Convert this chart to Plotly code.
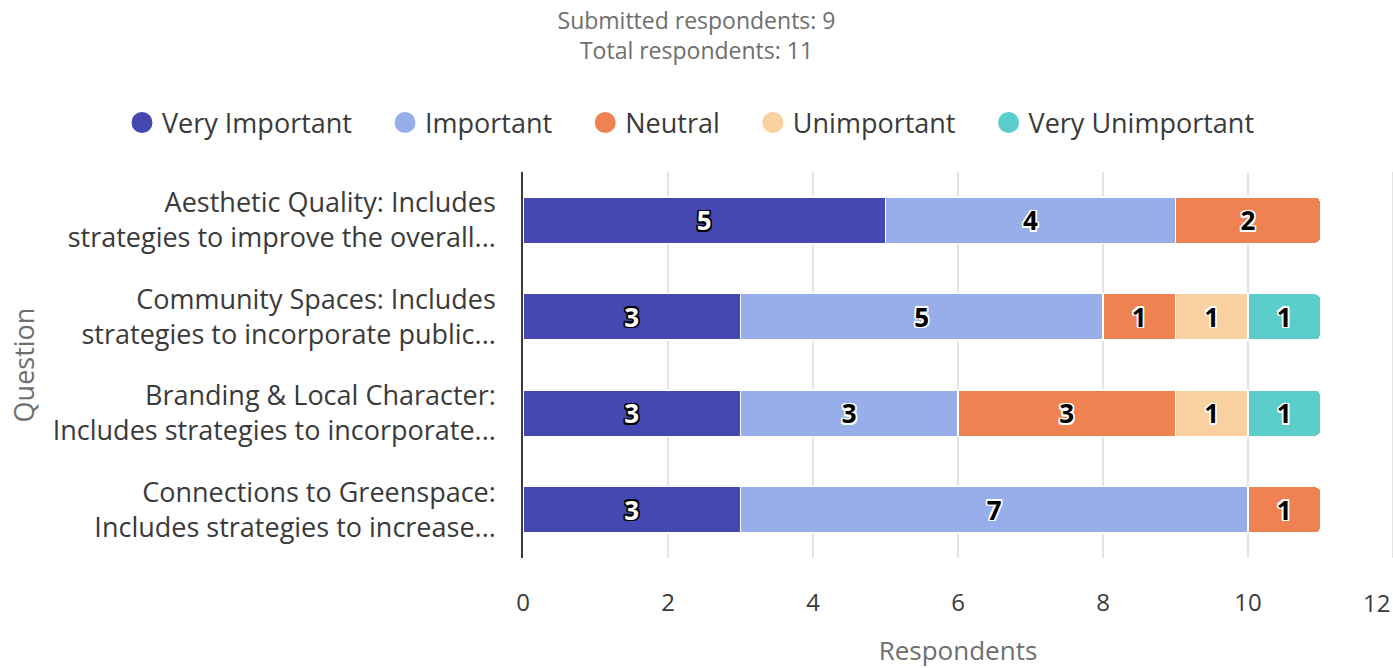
import plotly.graph_objects as go

categories = [
    "Aesthetic Quality: Includes<br>strategies to improve the overall...",
    "Community Spaces: Includes<br>strategies to incorporate public...",
    "Branding & Local Character:<br>Includes strategies to incorporate...",
    "Connections to Greenspace:<br>Includes strategies to increase...",
]
series_names = ["Very Important", "Important", "Neutral", "Unimportant", "Very Unimportant"]
very_important = [5, 3, 3, 3]
important = [4, 5, 3, 7]
neutral = [2, 1, 3, 1]
unimportant = [None, 1, 1, None]
very_unimportant = [None, 1, 1, None]
colors = ["#4448B0", "#98AEEB", "#EF8253", "#F9D09F", "#5BCDCB"]
x_ticks = [0, 2, 4, 6, 8, 10, 12]

FONT = "Open Sans"
dark_outline = ", ".join(f"{dx}px {dy}px 0 #000" for dx in (-1.5, 0, 1.5) for dy in (-1.5, 0, 1.5) if dx or dy)
light_outline = ", ".join(f"{dx}px {dy}px 0 #fff" for dx in (-1.5, 0, 1.5) for dy in (-1.5, 0, 1.5) if dx or dy)
PAD = "\u00a0" * 4

fig = go.Figure()
all_vals = [very_important, important, neutral, unimportant, very_unimportant]
for i, (name, vals, col) in enumerate(zip(series_names, all_vals, colors)):
    white = i == 0
    fig.add_trace(go.Bar(
        y=categories, x=vals, orientation="h", name=name,
        marker=dict(color=col, line=dict(color="#ffffff", width=1.5)),
        text=[str(v) if v else "" for v in vals],
        textposition="inside", insidetextanchor="middle", textangle=0,
        constraintext="none",
        textfont=dict(family=FONT, size=26, weight="bold",
                      color="#ffffff" if white else "#000000",
                      shadow=dark_outline if white else light_outline),
        showlegend=False, hoverinfo="skip",
    ))
    fig.add_trace(go.Scatter(
        x=[None], y=[None], mode="markers",
        name=name + (PAD if i < len(series_names) - 1 else ""),
        marker=dict(symbol="circle", size=16, color=col, line=dict(color=col, width=5)),
        showlegend=True,
    ))

fig.update_layout(
    width=1393, height=668,
    barmode="stack", bargap=0.52, barcornerradius=5,
    plot_bgcolor="#ffffff", paper_bgcolor="#ffffff",
    margin=dict(l=523, r=0, t=172, b=110, autoexpand=False),
    font=dict(family=FONT, color="#3a3a3a"),
    title=dict(text="Submitted respondents: 9<br>Total respondents: 11",
               x=0.5, xref="container", xanchor="center",
               y=1 - 29 / 668, yref="container", yanchor="top",
               font=dict(family=FONT, size=23, color="#6e6e6e")),
    legend=dict(orientation="h", xref="paper", x=(122 - 523) / 870, xanchor="left",
                y=1.127, yanchor="middle", traceorder="normal",
                font=dict(family=FONT, size=27, color="#3a3a3a"),
                itemwidth=30, tracegroupgap=0),
    xaxis=dict(range=[0, 12], tickvals=x_ticks[:-1], showgrid=True, gridcolor="#e4e4e4", gridwidth=2,
               zeroline=False, showline=False, ticks="", ticklabelstandoff=28,
               tickfont=dict(family=FONT, size=24, color="#3a3a3a"),
               title=dict(text="Respondents", standoff=25, font=dict(family=FONT, size=26, color="#6e6e6e"))),
    yaxis=dict(autorange="reversed", showline=True, linecolor="#3a3a3a", linewidth=1.5,
               showgrid=False, ticks="", ticklabelstandoff=20,
               tickfont=dict(family=FONT, size=27, color="#3a3a3a"),
               title=dict(text="Question", standoff=10, font=dict(family=FONT, size=27, color="#6e6e6e"))),
)
# gridline at right edge and the last tick label aligned inside the page
fig.add_shape(type="line", xref="x", yref="paper", x0=12, x1=12, y0=0, y1=1,
              line=dict(color="#e4e4e4", width=2))
fig.add_annotation(x=1, xref="paper", y=0, yref="paper", yshift=-26, xshift=-1, text=str(x_ticks[-1]),
                   xanchor="right", yanchor="top", showarrow=False,
                   font=dict(family=FONT, size=24, color="#3a3a3a"))

fig.write_html("out.html", config={"displayModeBar": False},
               post_script="document.body.style.margin='0';")
